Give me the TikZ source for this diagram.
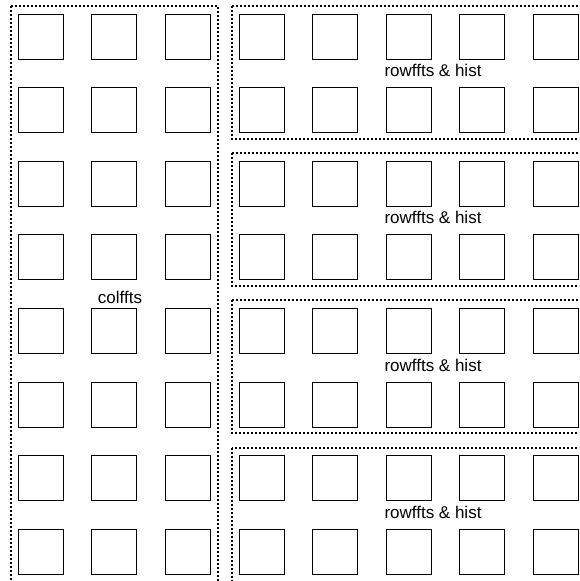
\documentclass[tikz,border=0pt]{standalone}
\usepackage{fontspec}
\setmainfont{Liberation Sans}
\begin{document}
\begin{tikzpicture}[x=1pt,y=-1pt,
  cell/.style={draw, line width=1pt, minimum size=45pt, inner sep=0pt, outer sep=0pt},
  grp/.style={line width=2pt, dash pattern=on 2pt off 2pt},
  lbl/.style={font=\fontsize{17}{20}\selectfont, anchor=base, inner sep=0pt}]
\useasboundingbox (0,0) rectangle (579,581);
\clip (0,0) rectangle (579,581);
\foreach \r in {0,...,7}{
  \foreach \c in {0,...,7}{
    \node[cell] (s-\r-\c) at ({40.8+73.6*\c},{36.5+73.6*\r}) {};
  }
}
\draw[grp] (11,6) rectangle (218,600);
\foreach \k in {0,1,2}{
  \draw[grp] (232,{6+147.2*\k}) rectangle (640,{139+147.2*\k});
}
\draw[grp] (232,447.6) rectangle (640,620);
\foreach \k in {0,...,3}{
  \node[lbl] (rh\k) at (433,{76.7+147.2*\k}) {rowffts \& hist};
}
\node[lbl] (cf) at (120,303.3) {colffts};
\end{tikzpicture}
\end{document}
